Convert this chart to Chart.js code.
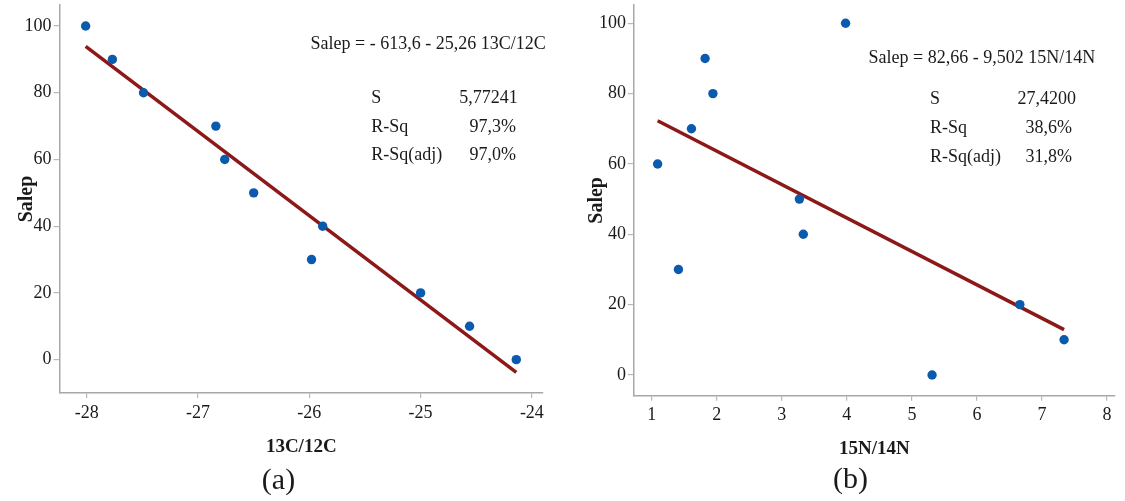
<!DOCTYPE html>
<html>
<head>
<meta charset="utf-8">
<script src="https://cdn.jsdelivr.net/npm/chart.js@4"></script>
<style>
  html, body { margin: 0; padding: 0; background: #fff; }
  #wrap { position: relative; width: 1125px; height: 501px; overflow: hidden; }
  canvas { position: absolute; top: 0; }
  #chartA { left: 0; }
  #chartB { left: 565px; }
</style>
</head>
<body>
<div id="wrap">
  <canvas id="chartA" width="565" height="501"></canvas>
  <canvas id="chartB" width="560" height="501"></canvas>
</div>
<script>
// Salep vs isotope ratios, one regression panel each

const salep = [100, 90, 80, 70, 60, 50, 40, 30, 20, 10, 0];

// (a) 13C/12C
const c13 = [-28.01, -27.77, -27.49, -26.84, -26.76, -26.50, -25.88, -25.98, -25.00, -24.56, -24.14];
const fitCx = [-28.01, -24.14];
const fitCy = [93.9, -3.8];
const eqC = 'Salep = - 613,6 - 25,26 13C/12C';
const statsC = ['5,77241', '97,3%', '97,0%'];

// (b) 15N/14N
const n15 = [3.98, 1.82, 1.94, 1.61, 1.09, 3.27, 3.33, 1.41, 6.66, 7.34, 5.31];
const fitNx = [1.09, 7.34];
const fitNy = [72.3, 12.9];
const eqN = 'Salep = 82,66 - 9,502 15N/14N';
const statsN = ['27,4200', '38,6%', '31,8%'];

const statLabels = ['S', 'R-Sq', 'R-Sq(adj)'];
const yTicks = [0, 20, 40, 60, 80, 100];

const SERIF = '"Liberation Serif", "Times New Roman", serif';
const DOT = '#0a5aad';
const FIT = '#8c1818';
const AXIS = '#a8a8a8';
const INK = '#1a1a1a';

const toPts = (xs, ys) => xs.map((x, i) => ({ x, y: ys[i] }));

// equation, fit stats and panel letter
const statsText = {
  id: 'statsText',
  afterDraw(chart, args, o) {
    const ctx = chart.ctx;
    ctx.save();
    ctx.fillStyle = INK;
    ctx.textBaseline = 'middle';
    ctx.font = `18px ${SERIF}`;
    ctx.textAlign = 'left';
    ctx.fillText(o.equation, o.eqX, o.eqY);
    o.labels.forEach((lab, i) => {
      ctx.textAlign = 'left';
      ctx.fillText(lab, o.labelX, o.rowY[i]);
      ctx.textAlign = 'right';
      ctx.fillText(o.values[i], o.valueX[i], o.rowY[i]);
    });
    ctx.font = `30px ${SERIF}`;
    ctx.textAlign = 'center';
    ctx.fillText(o.panel, o.panelX, o.panelY);
    ctx.restore();
  }
};

const makePanel = (id, cfg) => {
  const ctx = document.getElementById(id).getContext('2d');
  return new Chart(ctx, {
    type: 'scatter',
    data: {
      datasets: [
        {
          data: toPts(cfg.xs, salep),
          backgroundColor: DOT,
          borderWidth: 0,
          pointRadius: 4.7,
          order: 1
        },
        {
          type: 'line',
          data: toPts(cfg.fitX, cfg.fitY),
          borderColor: FIT,
          borderWidth: 3.5,
          pointRadius: 0,
          fill: false,
          order: 2
        }
      ]
    },
    options: {
      responsive: false,
      animation: false,
      devicePixelRatio: 1,
      layout: { padding: { left: 0, top: 5, right: cfg.padRight, bottom: 0 } },
      plugins: {
        legend: { display: false },
        tooltip: { enabled: false },
        statsText: cfg.stats
      },
      scales: {
        x: {
          type: 'linear',
          min: cfg.xMin,
          max: cfg.xMax,
          afterFit: s => {
            s.height = cfg.xHeight;
            s.paddingLeft = 0;
            s.paddingRight = 0;
          },
          border: { color: AXIS, width: 1.5 },
          grid: { drawOnChartArea: false, color: '#b8b8b8', lineWidth: 1.2, tickLength: 5 },
          ticks: {
            stepSize: 1,
            includeBounds: false,
            padding: 4,
            color: INK,
            font: { family: SERIF, size: 18 }
          },
          title: {
            display: true,
            text: cfg.xTitle,
            color: INK,
            font: { family: SERIF, size: 19, weight: 'bold' },
            padding: { top: 0, bottom: cfg.xTitlePad }
          }
        },
        y: {
          type: 'linear',
          min: cfg.yMin,
          max: cfg.yMax,
          afterFit: s => {
            s.width = cfg.yWidth;
            s.paddingTop = 0;
            s.paddingBottom = 0;
          },
          afterBuildTicks: s => { s.ticks = yTicks.map(value => ({ value })); },
          border: { color: AXIS, width: 1.5 },
          grid: { drawOnChartArea: false, color: '#b8b8b8', lineWidth: 1.2, tickLength: 6 },
          ticks: {
            padding: 2,
            color: INK,
            font: { family: SERIF, size: 18 }
          },
          title: {
            display: true,
            text: 'Salep',
            color: INK,
            font: { family: SERIF, size: 20, weight: 'bold' },
            padding: { top: cfg.yTitlePad, bottom: 0 }
          }
        }
      }
    },
    plugins: [statsText]
  });
};

makePanel('chartA', {
  xs: c13, fitX: fitCx, fitY: fitCy,
  xMin: -28.245, xMax: -23.9, yMin: -10, yMax: 106.3,
  padRight: 22, xHeight: 108, yWidth: 59.5,
  xTitle: '13C/12C', xTitlePad: 43, yTitlePad: 15,
  stats: {
    equation: eqC, eqX: 310.6, eqY: 44,
    labels: statLabels, values: statsC,
    labelX: 371.3, rowY: [97.8, 127, 155.5], valueX: [517.7, 516, 516],
    panel: '(a)', panelX: 278.5, panelY: 481
  }
});

makePanel('chartB', {
  xs: n15, fitX: fitNx, fitY: fitNy,
  xMin: 0.725, xMax: 8.12, yMin: -5.9, yMax: 105.2,
  padRight: 10.2, xHeight: 105.3, yWidth: 68.9,
  xTitle: '15N/14N', xTitlePad: 41, yTitlePad: 20,
  stats: {
    equation: eqN, eqX: 303.5, eqY: 58.5,
    labels: statLabels, values: statsN,
    labelX: 364.9, rowY: [99.7, 128, 157], valueX: [511, 507, 507],
    panel: '(b)', panelX: 285.6, panelY: 480
  }
});
</script>
</body>
</html>
